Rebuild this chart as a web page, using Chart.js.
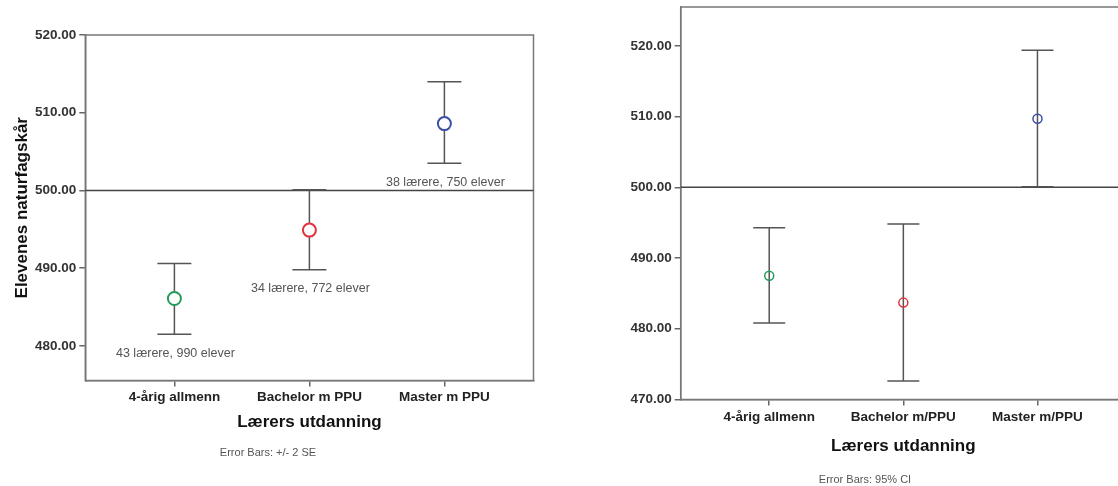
<!DOCTYPE html>
<html>
<head>
<meta charset="utf-8">
<script src="https://cdn.jsdelivr.net/npm/chart.js@4"></script>
<style>
  html, body { margin: 0; padding: 0; background: #fff; }
  body { width: 1118px; height: 486px; overflow: hidden; position: relative; font-family: "Liberation Sans", Arial, sans-serif; }
  canvas { position: absolute; top: 0; }
  #left { left: 0; }
  #right { left: 560px; }
  .note { position: absolute; font-size: 11px; color: #555; transform: translate(-50%, -50%); white-space: nowrap; }
</style>
</head>
<body>
<canvas id="left" width="560" height="486"></canvas>
<canvas id="right" width="600" height="486"></canvas>
<div class="note" style="left:268px; top:452px;">Error Bars: +/- 2 SE</div>
<div class="note" style="left:865px; top:479px;">Error Bars: 95% CI</div>
<script>
// left panel: mean +/- 2 SE
const categoriesLeft = ["4-årig allmenn", "Bachelor m PPU", "Master m PPU"];
const meanLeft = [486.1, 494.9, 508.6];
const lowLeft = [481.5, 489.8, 503.5];
const highLeft = [490.6, 500.1, 514.0];
const countLabels = ["43 lærere, 990 elever", "34 lærere, 772 elever", "38 lærere, 750 elever"];
const yTicksLeft = [480, 490, 500, 510, 520];

// right panel: mean with 95% CI
const categoriesRight = ["4-årig allmenn", "Bachelor m/PPU", "Master m/PPU"];
const meanRight = [487.5, 483.7, 509.7];
const lowRight = [480.8, 472.6, 500.1];
const highRight = [494.3, 494.8, 519.4];
const yTicksRight = [470, 480, 490, 500, 510, 520];

const referenceValue = 500;
const markerColors = ["#239b58", "#e0323f", "#3b4fa6"];
const FONT = "'Liberation Sans', Arial, sans-serif";

// frame, 500-line, error bars and count labels
function errorBars(low, high, capHalf, labels) {
  return {
    id: "errorBars",
    beforeDatasetsDraw(chart) {
      const { ctx, chartArea: a, scales: { x, y } } = chart;
      ctx.save();
      ctx.strokeStyle = "#777";
      ctx.lineWidth = 1.5;
      ctx.strokeRect(a.left, a.top, a.right - a.left, a.bottom - a.top);

      const yr = y.getPixelForValue(referenceValue);
      ctx.strokeStyle = "#444";
      ctx.beginPath();
      ctx.moveTo(a.left, yr);
      ctx.lineTo(a.right, yr);
      ctx.stroke();

      ctx.strokeStyle = "#555";
      ctx.lineWidth = 1.5;
      low.forEach((lo, i) => {
        const px = x.getPixelForValue(i);
        const y1 = y.getPixelForValue(lo);
        const y2 = y.getPixelForValue(high[i]);
        ctx.beginPath();
        ctx.moveTo(px, y1); ctx.lineTo(px, y2);
        ctx.moveTo(px - capHalf, y1); ctx.lineTo(px + capHalf, y1);
        ctx.moveTo(px - capHalf, y2); ctx.lineTo(px + capHalf, y2);
        ctx.stroke();
        if (labels) {
          ctx.fillStyle = "#555";
          ctx.font = "12.5px " + FONT;
          ctx.textAlign = "center";
          ctx.textBaseline = "middle";
          ctx.fillText(labels[i], px + 1, y1 + 19);
        }
      });
      ctx.restore();
    }
  };
}

function makeChart(id, cats, means, low, high, yTicks, yMin, yMax, opt) {
  const ticksFont = { family: FONT, size: 13.5, weight: "bold" };
  return new Chart(document.getElementById(id), {
    type: "scatter",
    data: {
      datasets: [{
        data: means.map((m, i) => ({ x: i, y: m })),
        pointRadius: opt.radius,
        pointBorderWidth: opt.border,
        pointBorderColor: markerColors,
        pointBackgroundColor: opt.fill,
        clip: false
      }]
    },
    options: {
      responsive: false,
      animation: false,
      events: [],
      layout: { padding: opt.padding },
      plugins: { legend: { display: false }, tooltip: { enabled: false } },
      scales: {
        x: {
          type: "linear",
          min: -0.66,
          max: 2.66,
          afterBuildTicks: s => { s.ticks = cats.map((c, i) => ({ value: i })); },
          afterFit: s => { s.height = opt.xHeight; s.paddingLeft = 0; s.paddingRight = 0; },
          ticks: { callback: (v) => cats[v], font: ticksFont, color: "#222", padding: opt.xPad, maxRotation: 0 },
          grid: { display: true, drawOnChartArea: false, tickLength: 6, color: "#666", lineWidth: 1.5 },
          border: { display: true, color: "#777", width: 1.5 },
          title: { display: true, text: "Lærers utdanning", font: { family: FONT, size: 17, weight: "bold" }, color: "#111", padding: { top: 0, bottom: 0 } }
        },
        y: {
          min: yMin,
          max: yMax,
          afterBuildTicks: s => { s.ticks = yTicks.map(v => ({ value: v })); },
          afterFit: s => { s.width = opt.yWidth; s.paddingTop = 0; s.paddingBottom = 0; },
          ticks: { callback: v => v.toFixed(2), font: ticksFont, color: "#333", padding: 3 },
          grid: { display: true, drawOnChartArea: false, tickLength: 6, color: "#666", lineWidth: 1.5 },
          border: { display: true, color: "#777", width: 1.5 },
          title: opt.yTitle
            ? { display: true, text: opt.yTitle, font: { family: FONT, size: 17, weight: "bold" }, color: "#111", padding: { top: 12, bottom: 0 } }
            : { display: false }
        }
      }
    },
    plugins: [errorBars(low, high, opt.cap, opt.labels)]
  });
}

makeChart("left", categoriesLeft, meanLeft, lowLeft, highLeft, yTicksLeft, 475.55, 520, {
  radius: 6.5, border: 2, fill: "#fff", cap: 17, labels: countLabels,
  padding: { top: 35, right: 26.5, bottom: 53.8, left: 0 },
  xHeight: 51.7, yWidth: 85.3, xPad: 3, yTitle: "Elevenes naturfagskår"
});

makeChart("right", categoriesRight, meanRight, lowRight, highRight, yTicksRight, 470, 525.5, {
  radius: 4.5, border: 1.5, fill: "rgba(255,255,255,0)", cap: 16, labels: null,
  padding: { top: 7, right: 34, bottom: 29.1, left: 0 },
  xHeight: 57.4, yWidth: 120.7, xPad: 4, yTitle: null
});
</script>
</body>
</html>
